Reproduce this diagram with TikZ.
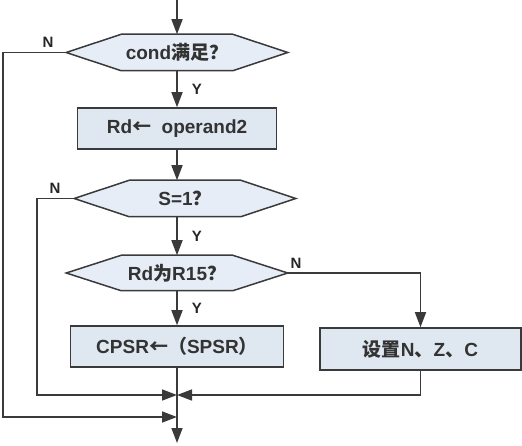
\documentclass[tikz,border=0pt]{standalone}
\usepackage{fontspec}
\setmainfont{Liberation Sans}
\newfontfamily\cjk{Noto Sans CJK SC}
\usetikzlibrary{arrows.meta,positioning,backgrounds}
\definecolor{boxfill}{HTML}{DFE7F1}
\definecolor{condfill}{HTML}{E6EDF6}
\definecolor{linegray}{HTML}{3A3A3A}
\tikzset{flow box/.style={rectangle,draw=linegray,fill=boxfill,line width=1.5pt,inner sep=0pt,
                          font=\fontsize{19}{22}\selectfont\bfseries,text=black!80},
         cond node/.style={rectangle,inner sep=0pt,minimum height=35pt,minimum width=110pt,
                           font=\fontsize{19}{22}\selectfont\bfseries,text=black!80},
         cond shape/.style={draw=linegray,fill=condfill,line width=1.5pt,line join=miter},
         yn label/.style={rectangle,inner sep=0pt,font=\fontsize{15}{17}\selectfont\bfseries,text=black!85},
}
\begin{document}
\begin{tikzpicture}[x=1pt,y=-1pt,>={Triangle[width=11pt,length=15pt]},
line width=1.5pt,color=linegray]
\useasboundingbox (0,0) rectangle (522,446);
% main column
\node[cond node] (cond) at (177,52.5) {cond{\cjk 满足？}};
\node[flow box,minimum width=199pt,minimum height=41pt] (mov) at (177,128.5) {Rd{\cjk ←} \ operand2};
\node[cond node] (sflag) at (185,198.5) {S=1{\cjk ？}};
\node[cond node,minimum height=34pt] (rd15) at (177,273) {Rd{\cjk 为}R15{\cjk ？}};
\node[flow box,minimum width=213pt,minimum height=41pt] (cpsr) at (177,346.5) {CPSR{\cjk ←（}SPSR{\cjk ）}};
\node[flow box,minimum width=201pt,minimum height=42pt] (nzc) at (420.5,349) {{\cjk 设置}N{\cjk 、}Z{\cjk 、}C};
% hexagons behind the tests
\begin{scope}[on background layer]
\foreach \n in {cond,sflag,rd15}{
  \coordinate (\n-l) at ([xshift=-55pt]\n.west);
  \coordinate (\n-r) at ([xshift=55pt]\n.east);
  \draw[cond shape] (\n.north west) -- (\n.north east) -- (\n-r) -- (\n.south east)
                    -- (\n.south west) -- (\n-l) -- cycle;
}
\end{scope}
% coordinates of the joins
\coordinate (top) at (177,0);
\coordinate (outer) at (3,417);
\coordinate (inner) at (37,395);
\coordinate (join1) at (177,395);
\coordinate (join2) at (177,417);
\coordinate (out) at (177,443);
% arrows down the middle
\draw[->] (top) -- (cond.north);
\draw[->] (cond.south) -- (mov.north) node[yn label,midway,right=14pt] (y1) {Y};
\draw[->] (mov.south) -- (mov.south |- sflag.north);
\draw[->] (mov.south |- sflag.south) -- (rd15.north) node[yn label,midway,right=14pt] (y2) {Y};
\draw[->] (rd15.south) -- (cpsr.north) node[yn label,midway,right=14pt] (y3) {Y};
\draw[->] (cpsr.south) -- (out);
% the N branches
\draw[->] (cond-l) -| (outer) -- (join2);
\node[yn label,above left=4pt and 12pt of cond-l] (n1) {N};
\draw[->] (sflag-l) -| (inner) -- (join1);
\node[yn label,above left=4pt and 13pt of sflag-l] (n2) {N};
\draw[->] (rd15-r) -| (nzc.north);
\node[yn label,above right=4pt and 2pt of rd15-r] (n3) {N};
\draw[->] (nzc.south) |- (join1);
\end{tikzpicture}
\end{document}
